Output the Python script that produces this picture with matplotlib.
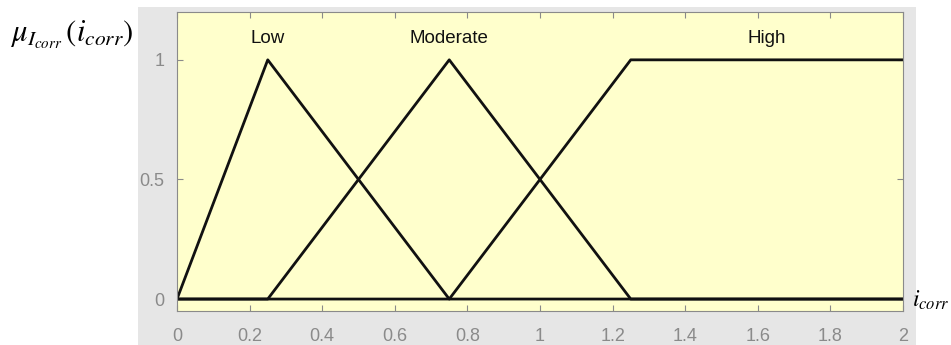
import matplotlib.pyplot as plt

plt.rcParams['mathtext.fontset'] = 'stix'
plt.rcParams['font.family'] = ['Liberation Sans', 'DejaVu Sans']

# membership functions on i_corr
x_grid = [0, 0.25, 0.75, 1.25, 2]
low = [0, 1, 0, 0, 0]
moderate = [0, 0, 1, 0, 0]
high = [0, 0, 0, 1, 1]
names = ['Low', 'Moderate', 'High']
name_x = [0.25, 0.75, 1.625]

xticks = [0, 0.2, 0.4, 0.6, 0.8, 1, 1.2, 1.4, 1.6, 1.8, 2]
xticklabels = ['0', '0.2', '0.4', '0.6', '0.8', '1', '1.2', '1.4', '1.6', '1.8', '2']
yticks = [0, 0.5, 1]
yticklabels = ['0', '0.5', '1']

fig = plt.figure(figsize=(9.51, 3.45), dpi=100)
fig.patch.set_facecolor('white')

# grey panel behind the plot area
bg = fig.add_axes([138 / 951, 0, (916 - 138) / 951, (345 - 7) / 345])
bg.axis('off')
bg.add_patch(plt.Rectangle((0, 0), 1, 1, transform=bg.transAxes,
                           facecolor='#e6e6e6', edgecolor='none'))

ax = fig.add_axes([177 / 951, (345 - 311) / 345, (903 - 177) / 951, (311 - 12) / 345])
ax.set_facecolor('#ffffcc')

for ys in [low, moderate, high]:
    ax.plot(x_grid, ys, color='#111111', lw=2.0, solid_joinstyle='round')

for n, xc in zip(names, name_x):
    ax.text(xc, 1.09, n, ha='center', va='center', fontsize=13.5, color='#111111')

ax.set_xlim(0, 2)
ax.set_ylim(-0.05, 1.2)
ax.set_xticks(xticks)
ax.set_xticklabels(xticklabels)
ax.set_yticks(yticks)
ax.set_yticklabels(yticklabels)
ax.tick_params(direction='in', length=4, width=0.8, color='#8a8a8a',
               labelcolor='#8a8a8a', labelsize=13, top=True, right=True)
ax.tick_params(axis='x', pad=12)
ax.tick_params(axis='y', pad=9)
for s in ax.spines.values():
    s.set_color('#8a8a8a')
    s.set_linewidth(0.8)

fig.text(10 / 951, 1 - 35 / 345, r'$\mu_{I_{corr}}\,(i_{corr})$', fontsize=22,
         ha='left', va='center', color='black')
fig.text(912 / 951, 1 - 300 / 345, r'$i_{corr}$', fontsize=17,
         ha='left', va='center', color='black')

fig.savefig('out.png', dpi=100, facecolor='white')
